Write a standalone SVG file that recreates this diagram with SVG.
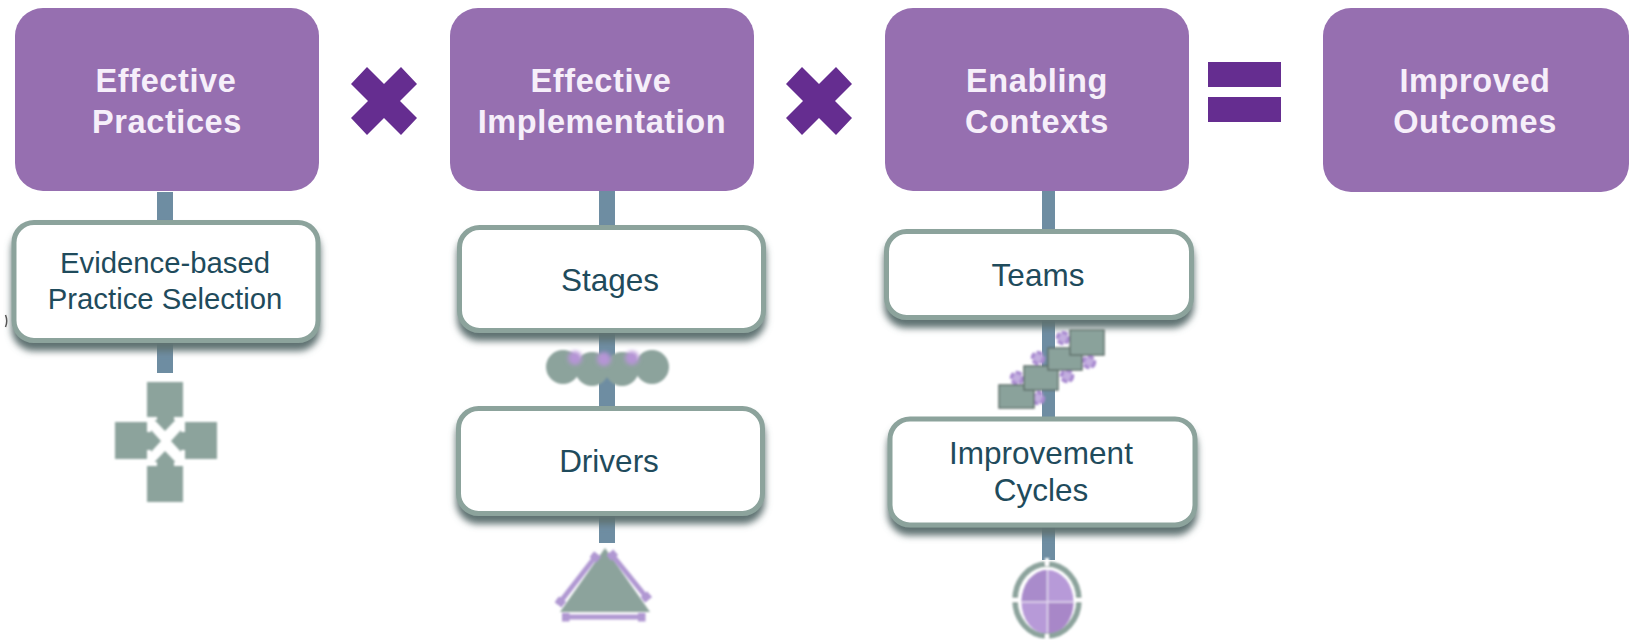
<svg xmlns="http://www.w3.org/2000/svg" width="1630" height="640" viewBox="0 0 1630 640">
<style>
.head{fill:#966FB0}
.headt{font:bold 32.500px "Liberation Sans",Arial,sans-serif;fill:#F6EFFA;text-anchor:middle;letter-spacing:.6px}
.sub{fill:#fff;stroke:#8CA39C;stroke-width:5;filter:url(#sh)}
.subt{font:29.300px "Liberation Sans",Arial,sans-serif;fill:#1F4B5C;text-anchor:middle}
.lg{font-size:31.500px}
.op{fill:#652D90}
.conn{fill:#6E8DA2}
.ic{fill:#8CA39C}
.pl{stroke:#B098D2;stroke-width:5;fill:none;marker-start:url(#cap);marker-end:url(#cap)}
.tm{fill:#8AA29B;stroke:#5F706B;stroke-width:1.500}
.dot{fill:#C3AEE0;stroke:#A98BD0;stroke-width:3.500;stroke-dasharray:6 2}
</style>
<defs>
<filter id="sh" x="-5%" y="-10%" width="110%" height="135%">
<feOffset in="SourceAlpha" dy="8" result="a"/>
<feGaussianBlur in="a" stdDeviation="3.500" result="b"/>
<feFlood flood-color="#5F7272"/>
<feComposite in2="b" operator="in" result="c"/>
<feMerge><feMergeNode in="c"/><feMergeNode in="SourceGraphic"/></feMerge>
</filter>
<filter id="soft" x="-20%" y="-20%" width="140%" height="140%"><feGaussianBlur stdDeviation="1"/></filter>
<filter id="softer" x="-50%" y="-50%" width="200%" height="200%"><feGaussianBlur stdDeviation="2"/></filter>
<marker id="cap" markerWidth="2" markerHeight="1.800" refX="1" refY=".9" orient="auto" markerUnits="strokeWidth"><rect x="0" y="0" width="1.500" height="1.800" fill="#B098D2"/></marker>
</defs>
<g id="connectors">
<rect class="conn" x="157" y="192" width="16" height="30"/>
<rect class="conn" x="157" y="340" width="16" height="33"/>
<rect class="conn" x="599" y="190" width="16" height="38"/>
<rect class="conn" x="599" y="330" width="16" height="78"/>
<rect class="conn" x="599" y="512" width="16" height="31"/>
<rect class="conn" x="1042" y="190" width="13" height="42"/>
<rect class="conn" x="1042" y="316" width="13" height="103"/>
<rect class="conn" x="1042" y="524" width="13" height="36"/>
</g>
<g id="effective-practices"><rect class="head" x="15" y="8" width="304" height="183" rx="28"/><text class="headt" x="166" y="92">Effective</text><text class="headt" x="167" y="133">Practices</text></g>
<g id="times-1"><polygon class="op" points="367,67 384,84 401,67 417,84 400,101 417,118 401,135 384,118 367,135 351,118 368,101 351,84"/></g>
<g id="effective-implementation"><rect class="head" x="450" y="8" width="304" height="183" rx="28"/><text class="headt" x="601" y="92">Effective</text><text class="headt" x="602" y="133">Implementation</text></g>
<g id="times-2"><polygon class="op" transform="translate(435 0)" points="367,67 384,84 401,67 417,84 400,101 417,118 401,135 384,118 367,135 351,118 368,101 351,84"/></g>
<g id="enabling-contexts"><rect class="head" x="885" y="8" width="304" height="183" rx="28"/><text class="headt" x="1037" y="92">Enabling</text><text class="headt" x="1037" y="133">Contexts</text></g>
<g id="equals"><rect class="op" x="1208" y="62" width="73" height="25"/><rect class="op" x="1208" y="97" width="73" height="25"/></g>
<g id="improved-outcomes"><rect class="head" x="1323" y="8" width="306" height="184" rx="28"/><text class="headt" x="1475" y="92">Improved</text><text class="headt" x="1475" y="133">Outcomes</text></g>

<g id="evidence-box"><rect class="sub" x="14" y="222.500" width="304" height="118" rx="20"/><text class="subt" x="165" y="273">Evidence-based</text><text class="subt" x="165" y="309">Practice Selection</text></g>
<g id="stages-box"><rect class="sub" x="459.500" y="227.500" width="304" height="103" rx="20"/><text class="subt lg" x="610" y="291">Stages</text></g>
<g id="drivers-box"><rect class="sub" x="458.500" y="408.500" width="304" height="105" rx="20"/><text class="subt lg" x="609" y="472">Drivers</text></g>
<g id="teams-box"><rect class="sub" x="886.500" y="231.500" width="305" height="86" rx="20"/><text class="subt lg" x="1038" y="286">Teams</text></g>
<g id="improvement-box"><rect class="sub" x="890" y="419" width="305" height="106" rx="20"/><text class="subt lg" x="1041" y="464">Improvement</text><text class="subt lg" x="1041" y="501">Cycles</text></g>

<g id="selection-icon" filter="url(#soft)">
<rect class="ic" x="147" y="382" width="36" height="35"/>
<rect class="ic" x="115" y="422" width="32" height="37"/>
<rect class="ic" x="185" y="422" width="32" height="37"/>
<rect class="ic" x="147" y="466" width="36" height="36"/>
<polygon class="ic" points="157,416 174,416 174,420 175.500,420 165,431 154.500,420 157,420"/>
<polygon class="ic" points="146,432 151,432 151,430 161,441 151,452 151,450 146,450"/>
<polygon class="ic" points="186,432 181,432 181,430 171,441 181,452 181,450 186,450"/>
<polygon class="ic" points="157,467 174,467 174,462 175.500,462 165,451 154.500,462 157,462"/>
</g>
<g id="stages-icon">
<g filter="url(#soft)"><circle class="ic" cx="563" cy="367" r="17"/><circle class="ic" cx="592" cy="369" r="17"/><circle class="ic" cx="622" cy="369" r="17"/><circle class="ic" cx="652" cy="367" r="17"/></g>
<g filter="url(#softer)"><circle cx="575" cy="358" r="7" fill="#B695D6"/><circle cx="604" cy="359" r="7" fill="#B695D6"/><circle cx="632" cy="358" r="7" fill="#B695D6"/></g>
</g>
<g id="drivers-icon" filter="url(#soft)">
<polygon class="ic" points="605,548 650,612 560,612"/>
<path class="pl" d="M561 601L596 556"/><path class="pl" d="M613 556L647 598"/><path class="pl" d="M567 617H643"/>
</g>
<g id="teams-icon" filter="url(#soft)">
<circle class="dot" cx="1063" cy="338" r="5.500"/><circle class="dot" cx="1038" cy="358" r="5.500"/><circle class="dot" cx="1089" cy="362" r="5.500"/><circle class="dot" cx="1067" cy="376" r="5.500"/><circle class="dot" cx="1017" cy="378" r="5.500"/><circle class="dot" cx="1038" cy="398" r="5.500"/>
<rect class="tm" x="999" y="385" width="35" height="23"/><rect class="tm" x="1024" y="366" width="34" height="24"/><rect class="tm" x="1048" y="348" width="34" height="22"/><rect class="tm" x="1070" y="330" width="34" height="25"/>
</g>
<g id="cycles-icon" filter="url(#soft)">
<ellipse cx="1047.500" cy="602" rx="26" ry="32" fill="#B79AD8"/>
<path d="M1047.500 570a26 32 0 0 0-26 32h26z" fill="#A98BCB"/>
<path d="M1047.500 602h26a26 32 0 0 1-26 32z" fill="#A887C8"/>
<path d="M1047.500 570V634M1021 602H1074" stroke="#E4DAF0" stroke-width="1.500"/>
<ellipse cx="1047" cy="600" rx="32" ry="36" fill="none" stroke="#8CA39C" stroke-width="5.500"/>
<path d="M1047 558v8M1047 634v8M1011 600h8M1075 600h8" stroke="#fff" stroke-width="4"/>
</g>
<path id="edge-mark" d="M5.500 315Q8 321 5.500 327" fill="none" stroke="#555" stroke-width="1.500"/>
</svg>
